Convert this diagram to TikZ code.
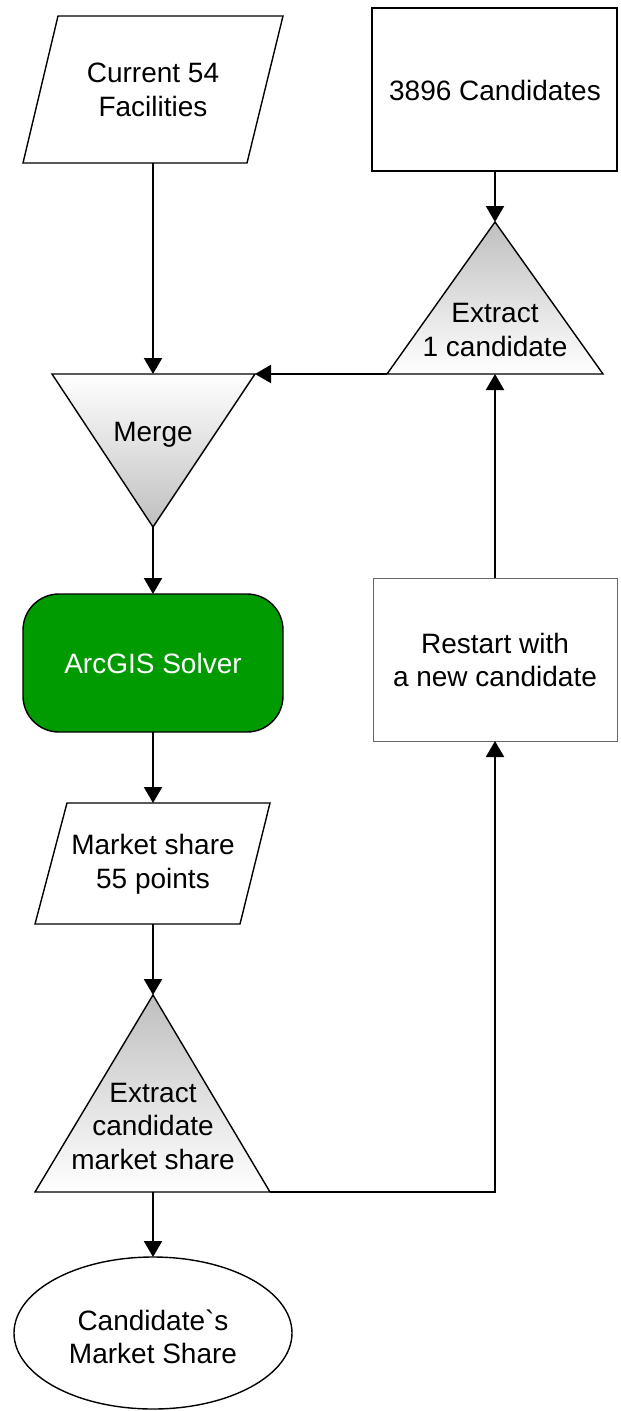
\documentclass[tikz,border=0pt]{standalone}
\usepackage{fontspec}
\setmainfont{Liberation Sans}
\usetikzlibrary{arrows.meta,shapes.geometric}
\definecolor{solvergreen}{RGB}{0,155,0}
\newcommand{\gravemark}{\XeTeXglyph\XeTeXcharglyph"0060\relax}
\begin{document}
\begin{tikzpicture}[x=1pt,y=-1pt,
  txt/.style={align=center,font=\fontsize{28}{33.5}\selectfont,inner sep=0pt},
  conn/.style={line width=2pt,-{Triangle[length=16pt,width=18pt]}},
  outline/.style={line width=1.4pt,draw=black},
  shadeup/.style={top color=gray!50,bottom color=white},
  shadedown/.style={top color=white,bottom color=gray!50}]
\useasboundingbox (0,0) rectangle (621,1411);

% Current 54 Facilities (parallelogram)
\path[outline,fill=white] (58,16) -- (283,16) -- (247,163) -- (23,163) -- cycle;
\node[txt] (cur) at (153,90) {Current 54\\Facilities};
\coordinate (curS) at (153,163);

% 3896 Candidates
\path[outline,fill=white] (372,8) rectangle (617,171);
\node[txt] (cand) at (495,90) {3896 Candidates};
\coordinate (candS) at (495,171);

% Extract 1 candidate (triangle)
\path[outline,shadeup] (495,222) -- (603,374) -- (387,374) -- cycle;
\node[txt] (ex1) at (495,330) {Extract\\1 candidate};
\coordinate (ex1N) at (495,222);
\coordinate (ex1W) at (387,374);
\coordinate (ex1S) at (495,374);

% Merge (inverted triangle)
\path[outline,shadedown] (52,374) -- (255,374) -- (153,527) -- cycle;
\node[txt] (merge) at (153,435) {Merge};
\coordinate (mergeN) at (153,374);
\coordinate (mergeE) at (255,374);
\coordinate (mergeS) at (153,527);

% ArcGIS Solver
\path[outline,fill=solvergreen,rounded corners=36pt] (23,594) rectangle (283,732);
\node[txt,text=white] (solver) at (153,663) {ArcGIS Solver};
\coordinate (solverN) at (153,594);
\coordinate (solverS) at (153,732);

% Market share 55 points (parallelogram)
\path[outline,fill=white] (67,803) -- (270,803) -- (240,924) -- (35,924) -- cycle;
\node[txt] (mkt) at (153,864) {Market share\\55 points};
\coordinate (mktN) at (153,803);
\coordinate (mktS) at (153,924);

% Extract candidate market share (triangle)
\path[outline,shadeup] (153,995) -- (270,1192) -- (35,1192) -- cycle;
\node[txt] (ex2) at (153,1126) {Extract\\candidate\\market share};
\coordinate (ex2N) at (153,995);
\coordinate (ex2S) at (153,1192);
\coordinate (ex2E) at (270,1192);

% Candidate`s Market Share (ellipse)
\path[outline,fill=white] (153,1333) ellipse [x radius=139, y radius=76];
\node[txt] (res) at (153,1337) {Candidate\gravemark s\\Market Share};
\coordinate (resN) at (153,1257);

% Restart with a new candidate
\path[line width=1pt,draw=gray!80!black,fill=white] (373,578) rectangle (617,741);
\node[txt] (restart) at (495,660) {Restart with\\a new candidate};
\coordinate (restartN) at (495,578);
\coordinate (restartS) at (495,741);
\coordinate (corner) at (495,1192);

% Connectors
\draw[conn] (curS) -- (mergeN);
\draw[conn] (candS) -- (ex1N);
\draw[conn] (ex1W) -- (mergeE);
\draw[conn] (mergeS) -- (solverN);
\draw[conn] (solverS) -- (mktN);
\draw[conn] (mktS) -- (ex2N);
\draw[conn] (ex2S) -- (resN);
\draw[conn] (ex2E) -- (corner) -- (restartS);
\draw[conn] (restartN) -- (ex1S);
\end{tikzpicture}
\end{document}
